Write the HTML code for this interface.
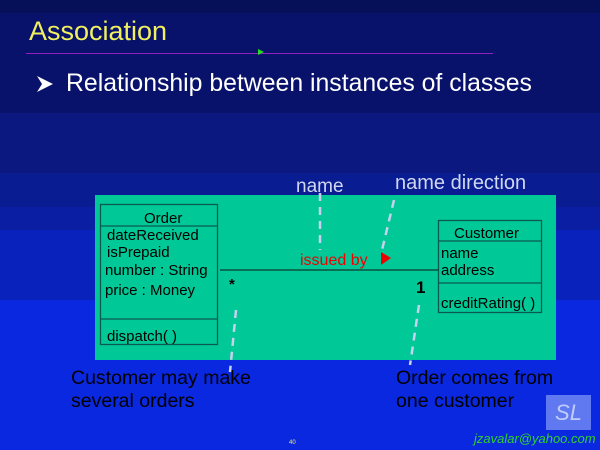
<!DOCTYPE html>
<html><head><style>
body{margin:0}
#s{position:relative;width:600px;height:450px;overflow:hidden;background:#0a28e0;font-family:"Liberation Sans",sans-serif}
.b{position:absolute;left:0;width:600px}
.t{position:absolute;white-space:nowrap}
</style></head><body><div id="s">
<div class="b" style="top:0;height:13px;background:#061058"></div>
<div class="b" style="top:13px;height:100px;background:#08126a"></div>
<div class="b" style="top:113px;height:60px;background:#0a1880"></div>
<div class="b" style="top:173px;height:34px;background:#0a1c92"></div>
<div class="b" style="top:207px;height:23px;background:#0a1ea4"></div>
<div class="b" style="top:230px;height:70px;background:#0a22bc"></div>
<div class="t" style="left:29px;top:16px;font-size:27px;color:#f0f060">Association</div>
<div class="b" style="left:26px;width:467px;top:53px;height:1px;background:#9020c0"></div>
<svg style="position:absolute;left:258px;top:49px" width="8" height="8"><polygon points="0,0 6,3 0,6" fill="#20e020"/></svg>
<svg style="position:absolute;left:36px;top:75px" width="20" height="18"><polygon points="1,1 17,9 1,17 6,9" fill="#fff"/></svg>
<div class="t" style="left:66px;top:70px;font-size:24.8px;color:#fff">Relationship between instances of classes</div>
<div style="position:absolute;left:95px;top:195px;width:461px;height:165px;background:#00c896"></div>
<svg style="position:absolute;left:0;top:0" width="600" height="450">
<g fill="none" stroke="#0a5a50" stroke-width="1.3">
<rect x="100.5" y="204.5" width="117" height="140"/>
<line x1="100" y1="226" x2="218" y2="226"/><line x1="100" y1="319" x2="218" y2="319"/>
<rect x="438.5" y="220.5" width="103" height="92"/>
<line x1="438" y1="241" x2="542" y2="241"/><line x1="438" y1="283" x2="542" y2="283"/>
</g>
<line x1="220" y1="270" x2="438" y2="270" stroke="#0a3a30" stroke-width="1.2"/>
<polygon points="381,252 391,258 381,265" fill="#f00000"/>
<g stroke="#c8d0f0" stroke-width="2.5" stroke-dasharray="8,6" fill="none">
<line x1="320" y1="193" x2="320" y2="250"/>
<line x1="394" y1="200" x2="382" y2="250"/>
<line x1="236" y1="310" x2="230" y2="372"/>
<line x1="419" y1="305" x2="410" y2="365"/>
</g>
</svg>
<div class="t" style="left:144px;top:210px;font-size:15px">Order</div>
<div class="t" style="left:107px;top:227px;font-size:15px;line-height:17px">dateReceived<br>isPrepaid</div>
<div class="t" style="left:105px;top:262px;font-size:15px">number : String</div>
<div class="t" style="left:105px;top:282px;font-size:15px">price : Money</div>
<div class="t" style="left:107px;top:328px;font-size:15px">dispatch( )</div>
<div class="t" style="left:454px;top:225px;font-size:15px">Customer</div>
<div class="t" style="left:441px;top:245px;font-size:15px;line-height:17px">name<br>address</div>
<div class="t" style="left:441px;top:295px;font-size:15px">creditRating( )</div>
<div class="t" style="left:300px;top:252px;font-size:16px;color:#f00000">issued by</div>
<div class="t" style="left:229px;top:276px;font-size:15px;font-weight:bold">*</div>
<div class="t" style="left:416px;top:278px;font-size:17px;font-weight:bold">1</div>
<div class="t" style="left:296px;top:176px;font-size:19px;color:#d0d8f0">name</div>
<div class="t" style="left:395px;top:172px;font-size:20px;color:#d0d8f0">name direction</div>
<div class="t" style="left:71px;top:367px;font-size:19.5px;line-height:23px;color:#000">Customer may make<br>several orders</div>
<div class="t" style="left:396px;top:367px;font-size:19.5px;line-height:23px;color:#000">Order comes from<br>one customer</div>
<div style="position:absolute;left:546px;top:395px;width:45px;height:35px;background:#6078f0;color:#c0ccff;font-size:22px;text-align:center;line-height:35px;font-style:italic">SL</div>
<div class="t" style="left:474px;top:431px;font-size:13px;font-style:italic;color:#30d030">jzavalar@yahoo.com</div>
<div class="t" style="left:289px;top:440px;font-size:6px;color:#f0f060">40</div>
</div></body></html>
